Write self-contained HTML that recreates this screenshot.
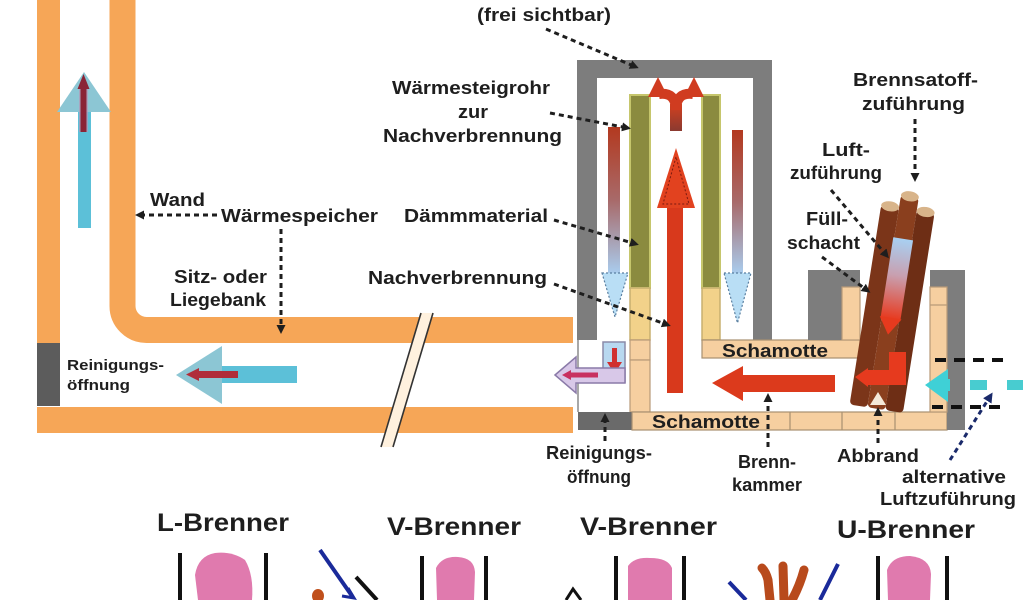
<!DOCTYPE html>
<html><head><meta charset="utf-8">
<style>
html,body{margin:0;padding:0;background:#fff;}
svg{display:block;}
text{font-family:"Liberation Sans",Arial,sans-serif;font-weight:bold;fill:#1e1e1e;}
</style></head><body>
<svg width="1024" height="600" viewBox="0 0 1024 600" xmlns="http://www.w3.org/2000/svg">
<defs>
 <marker id="ah" markerWidth="9" markerHeight="9" refX="6" refY="4.5" orient="auto" markerUnits="userSpaceOnUse"><path d="M0,0 L9,4.5 L0,9 z" fill="#1e1e1e"/></marker>
 <marker id="ahb" markerWidth="10" markerHeight="10" refX="7" refY="5" orient="auto" markerUnits="userSpaceOnUse"><path d="M0,0 L10,5 L0,10 z" fill="#1a2a6a"/></marker>
 <linearGradient id="rb" x1="0" y1="0" x2="0" y2="1"><stop offset="0" stop-color="#b3391f"/><stop offset="0.5" stop-color="#a86a6a"/><stop offset="1" stop-color="#a9cdef"/></linearGradient>
 <linearGradient id="br" x1="0" y1="0" x2="0" y2="1"><stop offset="0" stop-color="#a8d0f2"/><stop offset="0.45" stop-color="#c8a0b0"/><stop offset="1" stop-color="#e8381c"/></linearGradient>
 <linearGradient id="stem" x1="0" y1="0" x2="0" y2="1"><stop offset="0" stop-color="#d2401f"/><stop offset="1" stop-color="#8a3a30"/></linearGradient>
</defs>

<!-- LEFT DUCT / WALL -->
<rect x="37" y="0" width="23" height="345" fill="#f6a657"/>
<rect x="37" y="343" width="23" height="63" fill="#5c5c5c"/>
<rect x="37" y="407" width="536" height="26" fill="#f6a657"/>
<path d="M122.5,0 V306 A24,24 0 0 0 146.5,330 H573" stroke="#f6a657" stroke-width="26" fill="none"/>

<!-- break marks -->
<polygon points="381,447 421,313 433,313 393,447" fill="#fff1de"/>
<line x1="381" y1="447" x2="421" y2="313" stroke="#333" stroke-width="1.6"/>
<line x1="393" y1="447" x2="433" y2="313" stroke="#333" stroke-width="1.6"/>

<!-- chimney arrow -->
<polygon points="84,72 57,112 111,112" fill="#8cc6d4"/>
<rect x="78" y="112" width="13" height="116" fill="#5cc0d8"/>
<rect x="79" y="86" width="9" height="46" fill="#b497b8" opacity="0.7"/>
<rect x="80.5" y="84" width="6" height="48" fill="#8a2436"/>
<polygon points="83.5,74 77.5,89 89.5,89" fill="#8a2436"/>

<!-- bottom duct arrow -->
<polygon points="176,375 222,346 222,404" fill="#8cc6d4"/>
<rect x="222" y="366" width="75" height="17" fill="#5cc0d8"/>
<rect x="196" y="371" width="42" height="7" fill="#b02c3a"/>
<polygon points="186,374.5 199,368 199,381" fill="#b02c3a"/>

<!-- HEATER -->
<path d="M577,340 V60 H772 V340 H753 V78 H597 V340 Z" fill="#7d7d7d"/>
<line x1="578" y1="340" x2="578" y2="412" stroke="#8a8a8a" stroke-width="1.5"/>
<!-- columns -->
<rect x="630" y="95" width="20" height="193" fill="#8b8b3f" stroke="#c6c66c" stroke-width="2"/>
<rect x="630" y="288" width="20" height="52" fill="#f2d28a" stroke="#c8b070" stroke-width="1.5"/>
<rect x="630" y="340" width="20" height="20" fill="#f6cfa0" stroke="#b89a78" stroke-width="1.2"/>
<rect x="630" y="360" width="20" height="52" fill="#f6cfa0" stroke="#b89a78" stroke-width="1.2"/>
<rect x="702" y="95" width="18" height="193" fill="#8b8b3f" stroke="#c6c66c" stroke-width="2"/>
<rect x="702" y="288" width="18" height="52" fill="#f2d28a" stroke="#c8b070" stroke-width="1.5"/>
<!-- slabs -->
<rect x="702" y="340" width="158" height="18" fill="#f6cfa0" stroke="#a89070" stroke-width="1.2"/>
<rect x="578" y="412" width="54" height="18" fill="#6a6a6a"/>
<rect x="632" y="412" width="315" height="18" fill="#f6cfa0" stroke="#a89070" stroke-width="1.2"/>
<line x1="790" y1="412" x2="790" y2="430" stroke="#a89070" stroke-width="1.2"/>
<line x1="842" y1="412" x2="842" y2="430" stroke="#a89070" stroke-width="1.2"/>
<line x1="895" y1="412" x2="895" y2="430" stroke="#a89070" stroke-width="1.2"/>

<!-- top Y arrow -->
<rect x="670" y="104" width="12" height="27" fill="url(#stem)"/>
<path d="M676,110 Q676,92 659,94" stroke="#d03c20" stroke-width="10" fill="none"/>
<path d="M676,110 Q676,92 693,94" stroke="#d03c20" stroke-width="10" fill="none"/>
<polygon points="648,97 668,97 658,77" fill="#d03c20"/>
<polygon points="684,97 704,97 694,77" fill="#d03c20"/>

<!-- center big arrow -->
<rect x="667" y="207" width="16" height="186" fill="#d8391c"/>
<polygon points="676,148 657,208 695,208" fill="#e2421f"/>
<polygon points="676,157 663,204 689,204" fill="none" stroke="#7a1a10" stroke-width="1" stroke-dasharray="2 2"/>

<!-- down arrows -->
<rect x="608" y="127" width="12" height="147" fill="url(#rb)"/>
<polygon points="602,273 628,273 615,317" fill="#b9def5" stroke="#5a7fa0" stroke-width="1.2" stroke-dasharray="2 2"/>
<rect x="732" y="130" width="11" height="144" fill="url(#rb)"/>
<polygon points="724,273 751,273 737.5,323" fill="#b9def5" stroke="#5a7fa0" stroke-width="1.2" stroke-dasharray="2 2"/>

<!-- bottom left of heater -->
<rect x="603" y="342" width="22" height="40" fill="#b8d8f0" stroke="#8a8aa8" stroke-width="1.5"/>
<rect x="612" y="348" width="5" height="15" fill="#d03030"/>
<polygon points="607,362 622,362 614.5,374" fill="#d03030"/>
<polygon points="555,375 576,357 576,368 625,368 625,383 576,383 576,393" fill="#d8c8e8" stroke="#8a7aa8" stroke-width="1.5"/>
<rect x="568" y="372.5" width="30" height="5" fill="#c83060"/>
<polygon points="562,375 571,370 571,380" fill="#c83060"/>

<!-- Brennkammer arrow -->
<polygon points="712,383 743,366 743,375 835,375 835,392 743,392 743,401" fill="#dc3a1c"/>

<!-- FEED SHAFT -->
<rect x="808" y="270" width="52" height="70" fill="#7d7d7d"/>
<rect x="842" y="287" width="18" height="53" fill="#f6cfa0" stroke="#b89a78" stroke-width="1.2"/>
<rect x="930" y="270" width="35" height="17" fill="#7d7d7d"/>
<rect x="947" y="270" width="18" height="160" fill="#7d7d7d"/>
<rect x="930" y="287" width="17" height="125" fill="#f6cfa0" stroke="#b89a78" stroke-width="1.2"/>
<line x1="930" y1="305" x2="947" y2="305" stroke="#b89a78" stroke-width="1.2"/>

<g transform="translate(893,303) rotate(9)">
 <rect x="-27" y="-95" width="18" height="202" rx="4" fill="#7b3519"/>
 <rect x="-9" y="-108" width="18" height="215" rx="4" fill="#8a3f1e"/>
 <rect x="9" y="-95" width="18" height="202" rx="4" fill="#6e2e15"/>
 <ellipse cx="-18" cy="-95" rx="9" ry="5" fill="#d8b48a"/>
 <ellipse cx="0" cy="-108" rx="9" ry="5" fill="#d8b48a"/>
 <ellipse cx="18" cy="-95" rx="9" ry="5" fill="#d8b48a"/>
 <rect x="-10" y="-65" width="20" height="82" fill="url(#br)"/>
 <polygon points="-11,15 11,15 0,32" fill="#e63a1e"/>
</g>
<path d="M906,352 H889 V370 H866 V385 H906 Z" fill="#e63a1e"/>
<polygon points="855,377 868,368 868,387" fill="#e63a1e"/>
<polygon points="870,405 886,405 878,392" fill="#f4e8d8"/>

<!-- cyan arrow & dashed -->
<polygon points="925,385 948,369 948,402" fill="#3fd0d6"/>
<rect x="946" y="379" width="4" height="12" fill="#3fd0d6"/>
<rect x="970" y="380" width="17" height="10" fill="#48ccd0"/>
<rect x="1007" y="380" width="16" height="10" fill="#48ccd0"/>
<line x1="935" y1="360" x2="1010" y2="360" stroke="#111" stroke-width="4" stroke-dasharray="11 8"/>
<line x1="932" y1="407" x2="1004" y2="407" stroke="#111" stroke-width="4" stroke-dasharray="11 8"/>
<line x1="950" y1="460" x2="991" y2="395" stroke="#1a2a6a" stroke-width="3" stroke-dasharray="5 4" marker-end="url(#ahb)"/>

<!-- CALLOUT DOTTED ARROWS -->
<g stroke="#1e1e1e" stroke-width="3" stroke-dasharray="5 4" fill="none" marker-end="url(#ah)">
 <line x1="546" y1="29" x2="636" y2="67"/>
 <line x1="550" y1="113" x2="628" y2="128"/>
 <line x1="554" y1="220" x2="636" y2="244"/>
 <line x1="554" y1="284" x2="668" y2="325"/>
 <line x1="217" y1="215" x2="138" y2="215"/>
 <line x1="281" y1="229" x2="281" y2="331"/>
 <line x1="915" y1="119" x2="915" y2="179"/>
 <line x1="831" y1="190" x2="887" y2="256"/>
 <line x1="822" y1="257" x2="868" y2="291"/>
 <line x1="605" y1="441" x2="605" y2="416"/>
 <line x1="768" y1="447" x2="768" y2="396"/>
 <line x1="878" y1="443" x2="878" y2="410"/>
</g>

<!-- TEXT -->
<text x="477" y="21" font-size="18" textLength="134" lengthAdjust="spacingAndGlyphs">(frei sichtbar)</text>
<text x="392" y="94" font-size="18" textLength="158" lengthAdjust="spacingAndGlyphs">Wärmesteigrohr</text>
<text x="458" y="118" font-size="18" textLength="30" lengthAdjust="spacingAndGlyphs">zur</text>
<text x="383" y="142" font-size="18" textLength="179" lengthAdjust="spacingAndGlyphs">Nachverbrennung</text>
<text x="853" y="86" font-size="18" textLength="125" lengthAdjust="spacingAndGlyphs">Brennsatoff-</text>
<text x="862" y="110" font-size="18" textLength="103" lengthAdjust="spacingAndGlyphs">zuführung</text>
<text x="822" y="156" font-size="18" textLength="48" lengthAdjust="spacingAndGlyphs">Luft-</text>
<text x="790" y="179" font-size="18" textLength="92" lengthAdjust="spacingAndGlyphs">zuführung</text>
<text x="150" y="206" font-size="18" textLength="55" lengthAdjust="spacingAndGlyphs">Wand</text>
<text x="221" y="222" font-size="18" textLength="157" lengthAdjust="spacingAndGlyphs">Wärmespeicher</text>
<text x="404" y="222" font-size="18" textLength="144" lengthAdjust="spacingAndGlyphs">Dämmmaterial</text>
<text x="806" y="225" font-size="18" textLength="42" lengthAdjust="spacingAndGlyphs">Füll-</text>
<text x="787" y="249" font-size="18" textLength="73" lengthAdjust="spacingAndGlyphs">schacht</text>
<text x="174" y="283" font-size="18" textLength="93" lengthAdjust="spacingAndGlyphs">Sitz- oder</text>
<text x="170" y="306" font-size="18" textLength="96" lengthAdjust="spacingAndGlyphs">Liegebank</text>
<text x="368" y="284" font-size="18" textLength="179" lengthAdjust="spacingAndGlyphs">Nachverbrennung</text>
<text x="722" y="357" font-size="18" textLength="106" lengthAdjust="spacingAndGlyphs">Schamotte</text>
<text x="652" y="428" font-size="18" textLength="108" lengthAdjust="spacingAndGlyphs">Schamotte</text>
<text x="67" y="370" font-size="15" textLength="97" lengthAdjust="spacingAndGlyphs">Reinigungs-</text>
<text x="67" y="390" font-size="15" textLength="63" lengthAdjust="spacingAndGlyphs">öffnung</text>
<text x="546" y="459" font-size="18" textLength="106" lengthAdjust="spacingAndGlyphs">Reinigungs-</text>
<text x="567" y="483" font-size="18" textLength="64" lengthAdjust="spacingAndGlyphs">öffnung</text>
<text x="738" y="468" font-size="18" textLength="58" lengthAdjust="spacingAndGlyphs">Brenn-</text>
<text x="732" y="491" font-size="18" textLength="70" lengthAdjust="spacingAndGlyphs">kammer</text>
<text x="837" y="462" font-size="18" textLength="82" lengthAdjust="spacingAndGlyphs">Abbrand</text>
<text x="902" y="483" font-size="18" textLength="104" lengthAdjust="spacingAndGlyphs">alternative</text>
<text x="880" y="505" font-size="18" textLength="136" lengthAdjust="spacingAndGlyphs">Luftzuführung</text>
<text x="157" y="531" font-size="25" textLength="132" lengthAdjust="spacingAndGlyphs">L-Brenner</text>
<text x="387" y="535" font-size="25" textLength="134" lengthAdjust="spacingAndGlyphs">V-Brenner</text>
<text x="580" y="535" font-size="25" textLength="137" lengthAdjust="spacingAndGlyphs">V-Brenner</text>
<text x="837" y="538" font-size="25" textLength="138" lengthAdjust="spacingAndGlyphs">U-Brenner</text>

<!-- BURNER ICONS -->
<g stroke="#111" stroke-width="4">
 <line x1="180" y1="553" x2="180" y2="600"/><line x1="266" y1="553" x2="266" y2="600"/>
 <line x1="422" y1="556" x2="422" y2="600"/><line x1="486" y1="556" x2="486" y2="600"/>
 <line x1="616" y1="556" x2="616" y2="600"/><line x1="684" y1="556" x2="684" y2="600"/>
 <line x1="878" y1="556" x2="878" y2="600"/><line x1="947" y1="556" x2="947" y2="600"/>
</g>
<g fill="#e07aae">
 <path d="M198,600 L195,575 Q198,556 215,553 Q232,551 245,560 Q254,575 252,600 Z"/>
 <path d="M437,600 L436,568 Q442,556 458,557 Q474,558 475,572 L474,600 Z"/>
 <path d="M628,600 L628,566 Q634,557 650,558 Q668,558 672,568 L672,600 Z"/>
 <path d="M888,600 L887,570 Q892,556 910,556 Q930,558 931,574 L930,600 Z"/>
</g>
<line x1="320" y1="550" x2="352" y2="596" stroke="#1a2a9a" stroke-width="4"/>
<polyline points="348,588 354,598 342,596" fill="none" stroke="#1a2a9a" stroke-width="3"/>
<line x1="356" y1="577" x2="377" y2="600" stroke="#111" stroke-width="4"/>
<ellipse cx="318" cy="596" rx="6" ry="7" fill="#c0501c"/>
<polyline points="566,600 573,589 581,600" fill="none" stroke="#111" stroke-width="3"/>
<line x1="729" y1="582" x2="746" y2="600" stroke="#1a2a9a" stroke-width="4"/>
<line x1="838" y1="564" x2="820" y2="600" stroke="#1a2a9a" stroke-width="4"/>
<g stroke="#b84a1c" stroke-width="9" stroke-linecap="round" fill="none">
 <path d="M770,600 L768,580 Q766,572 762,568"/>
 <path d="M784,600 L783,566"/>
 <path d="M792,600 Q800,585 804,570"/>
</g>
</svg>
</body></html>
